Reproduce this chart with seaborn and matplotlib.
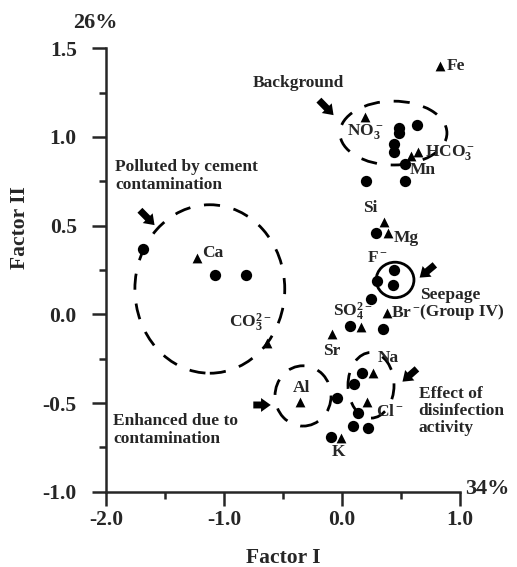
import matplotlib
matplotlib.use("Agg")
import matplotlib.pyplot as plt
from matplotlib.patches import Ellipse
from matplotlib.ticker import MultipleLocator
import pandas as pd
import seaborn as sns

# Muestras (circulos): Factor I, Factor II
muestra_f1 = [-1.69, -1.08, -0.81, 0.48, 0.48, 0.64, 0.44, 0.44, 0.53, 0.20, 0.53,
              0.29, 0.44, 0.30, 0.43, 0.25, 0.07, 0.35, 0.17, 0.10, -0.04, 0.14,
              0.09, 0.22, -0.09]
muestra_f2 = [0.37, 0.22, 0.22, 1.05, 1.02, 1.07, 0.96, 0.915, 0.85, 0.75, 0.75,
              0.46, 0.25, 0.19, 0.165, 0.085, -0.065, -0.08, -0.33, -0.39, -0.47, -0.555,
              -0.63, -0.64, -0.69]

# Variables (triangulos)
variables = ["Fe", "NO$_3^-$", "HCO$_3^-$", "Mn", "Si", "Mg", "Ca", "CO$_3^{2-}$",
             "SO$_4^{2-}$", "Br$^-$", "Sr", "Na", "Al", "Cl$^-$", "K"]
var_f1 = [0.83, 0.195, 0.645, 0.585, 0.355, 0.39, -1.23, -0.635, 0.16, 0.38, -0.085,
          0.265, -0.355, 0.21, -0.01]
var_f2 = [1.40, 1.115, 0.915, 0.89, 0.52, 0.46, 0.32, -0.16, -0.07, 0.005, -0.11,
          -0.33, -0.495, -0.495, -0.70]

# Posicion de etiquetas (desplazamiento en puntos, alineacion)
etiquetas = {
    "Fe": (5, 0, "left"), "NO$_3^-$": (0, -11, "center"), "HCO$_3^-$": (5, 0, "left"),
    "Mn": (-1, -10, "left"), "Si": (-10, 10, "center"), "Mg": (4, -4, "left"),
    "Ca": (4, 3, "left"), "CO$_3^{2-}$": (3, 14, "right"), "SO$_4^{2-}$": (-6, 11, "center"),
    "Br$^-$": (3, 0, "left"), "Sr": (0, -12, "center"), "Na": (11, 11, "center"),
    "Al": (1, 10, "center"), "Cl$^-$": (7, -7, "left"), "K": (-2, -10, "center"),
}

df_m = pd.DataFrame({"f1": muestra_f1, "f2": muestra_f2})
df_v = pd.DataFrame({"f1": var_f1, "f2": var_f2, "nombre": variables})

sns.set_style("ticks")
plt.rcParams["font.family"] = ["Liberation Serif", "DejaVu Serif"]
plt.rcParams["font.weight"] = "bold"
plt.rcParams["axes.labelweight"] = "bold"
plt.rcParams["axes.unicode_minus"] = False
plt.rcParams["mathtext.fontset"] = "custom"
plt.rcParams["mathtext.rm"] = "Liberation Serif:bold"
plt.rcParams["mathtext.it"] = "Liberation Serif:italic:bold"
plt.rcParams["mathtext.bf"] = "Liberation Serif:bold"
plt.rcParams["mathtext.default"] = "rm"

fig = plt.figure(figsize=(5.17, 5.67), dpi=100)
ax = fig.add_axes([0.205, 0.1328, 0.6847, 0.782])

sns.scatterplot(data=df_m, x="f1", y="f2", marker="o", s=66, color="black",
                linewidth=0, ax=ax, zorder=3)
sns.scatterplot(data=df_v, x="f1", y="f2", marker="^", s=50, color="black",
                linewidth=0, ax=ax, zorder=3)

fs = 12.5
for nombre, x, y in zip(variables, var_f1, var_f2):
    dx, dy, ha = etiquetas[nombre]
    ax.annotate(nombre, (x, y), xytext=(dx, dy), textcoords="offset points",
                ha=ha, va="center", fontsize=fs, fontweight="bold")
ax.text(0.30, 0.32, "F$^-$", ha="center", va="center", fontsize=fs)

# Agrupaciones
guiones = (0, (5.8, 5.0))
grupos = [
    ((-1.12, 0.143), 1.27, 0.95),   # cemento
    ((0.436, 1.022), 0.907, 0.36),  # background
    ((-0.33, -0.46), 0.475, 0.34),  # Al
    ((0.246, -0.40), 0.39, 0.37),   # desinfeccion
]
for centro, w, h in grupos:
    ax.add_patch(Ellipse(centro, w, h, fill=False, lw=2.0, ls=guiones,
                         color="black", zorder=2))
ax.add_patch(Ellipse((0.45, 0.194), 0.32, 0.20, fill=False, lw=2.0,
                     color="black", zorder=2))

# Flechas
flecha = dict(arrowstyle="simple,head_length=0.7,head_width=1.0,tail_width=0.5",
              color="black", lw=0)
flechas = [
    ((-0.212, 1.219), (-0.055, 1.112)),
    ((-1.729, 0.598), (-1.572, 0.492)),
    ((0.805, 0.289), (0.640, 0.197)),
    ((-0.775, -0.511), (-0.580, -0.511)),
    ((0.653, -0.297), (0.495, -0.390)),
]
for cola, punta in flechas:
    ax.annotate("", xy=punta, xytext=cola, arrowprops=flecha)

ax.text(-0.754, 1.304, "Background", ha="left", va="center", fontsize=fs)
ax.text(-1.924, 0.78, "Polluted by cement\ncontamination", ha="left", va="center",
        fontsize=fs, linespacing=1.15)
ax.text(0.66, 0.061, "Seepage\n(Group IV)", ha="left", va="center", fontsize=fs,
        linespacing=1.15)
ax.text(0.65, -0.545, "Effect of\ndisinfection\nactivity", ha="left", va="center",
        fontsize=fs, linespacing=1.1)
ax.text(-1.94, -0.652, "Enhanced due to\ncontamination", ha="left", va="center",
        fontsize=fs, linespacing=1.15)

ax.set_xlim(-2.0, 1.0)
ax.set_ylim(-1.0, 1.5)
ax.xaxis.set_major_locator(MultipleLocator(1.0))
ax.xaxis.set_minor_locator(MultipleLocator(0.5))
ax.yaxis.set_major_locator(MultipleLocator(0.5))
ax.yaxis.set_minor_locator(MultipleLocator(0.25))
ax.xaxis.set_major_formatter(lambda v, p: f"{v:.1f}")
ax.yaxis.set_major_formatter(lambda v, p: f"{v:.1f}")
ax.tick_params(which="major", length=10, width=1.8, labelsize=15.5)
ax.tick_params(which="minor", length=5, width=1.8)
ax.tick_params(axis="x", which="major", pad=3)
ax.tick_params(axis="y", which="major", pad=11)
for lab in ax.get_xticklabels() + ax.get_yticklabels():
    lab.set_fontweight("bold")

sns.despine(ax=ax)
for s in ["left", "bottom"]:
    ax.spines[s].set_linewidth(1.8)

ax.set_xlabel("Factor I", fontsize=15.5, fontweight="bold")
ax.set_ylabel("Factor II", fontsize=15.5, fontweight="bold")
ax.xaxis.set_label_coords(0.5, -0.128)
ax.yaxis.set_label_coords(-0.215, 0.595)

fig.text(0.184, 0.959, "26%", ha="center", va="center", fontsize=16, fontweight="bold")
fig.text(0.899, 0.1376, "34%", ha="left", va="center", fontsize=16, fontweight="bold")

fig.savefig("out.png", dpi=100)
